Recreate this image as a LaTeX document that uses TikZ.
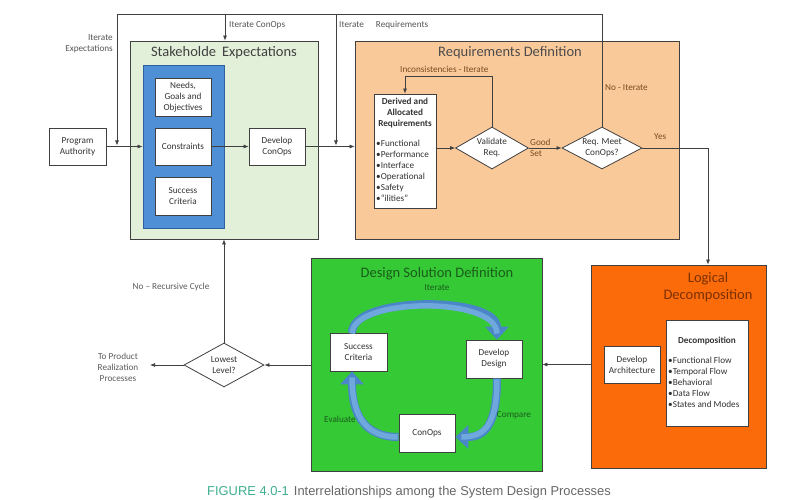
\documentclass[tikz,border=0pt]{standalone}
\usepackage{fontspec}
\setmainfont{Carlito}
\newfontfamily\capfont{Liberation Sans}
\usetikzlibrary{arrows.meta,shapes.geometric}
\definecolor{ln}{HTML}{404040}
\definecolor{txt}{HTML}{333333}
\definecolor{lbl}{HTML}{555555}
\definecolor{brn}{HTML}{7B4A1E}
\definecolor{shfill}{HTML}{E2EFD9}
\definecolor{bluebox}{HTML}{4F8FD6}
\definecolor{blueedge}{HTML}{2E5F9E}
\definecolor{rqfill}{HTML}{FAC99A}
\definecolor{ldfill}{HTML}{FB6B0A}
\definecolor{ldtitle}{HTML}{7A3000}
\definecolor{dsfill}{HTML}{36C936}
\definecolor{dstitle}{HTML}{1A5C1A}
\definecolor{cyc}{HTML}{4A86C8}
\definecolor{cycin}{HTML}{6FA8DC}
\definecolor{capg}{HTML}{3FAE8F}
\definecolor{capt}{HTML}{666666}
\begin{document}
\begin{tikzpicture}[x=1pt,y=-1pt,
  every node/.style={font=\fontsize{9.2}{11}\selectfont, text=txt},
  wbox/.style={draw=ln, line width=0.8pt, fill=white, align=center, inner sep=1pt},
  bigbox/.style={draw=ln, line width=0.8pt, inner sep=0pt},
  title/.style={font=\fontsize{14.5}{17}\selectfont, align=center},
  dia/.style={diamond, draw=ln, line width=0.8pt, fill=white, align=center, inner sep=0pt},
  conn/.style={draw=ln, line width=0.7pt},
  arr/.style={conn, -{Latex[length=5pt,width=4pt]}},
  lab/.style={text=lbl, inner sep=0pt},
  blab/.style={text=brn, inner sep=0pt},
  cycarrow/.style={draw=cyc, line width=8pt, -{Triangle[width=23pt,length=13pt]}},
  cycinner/.style={draw=cycin, line width=5.5pt, shorten >=6pt}
]
\useasboundingbox (0,0) rectangle (812,500);

% Stakeholder expectations
\node[bigbox, fill=shfill, minimum width=188pt, minimum height=198pt] (sh) at (224,140) {};
\node[title, text=black!75] (shT) at (224,53) {Stakeholde\hspace{6pt}Expectations};
\node[draw=blueedge, line width=0.8pt, fill=bluebox, minimum width=81pt, minimum height=163pt] (blue) at (183.5,146.5) {};
\node[wbox, minimum width=56pt, minimum height=38pt] (needs) at (183,97) {Needs,\\Goals and\\Objectives};
\node[wbox, minimum width=56pt, minimum height=37pt] (cons) at (183,146.5) {Constraints};
\node[wbox, minimum width=56pt, minimum height=38pt] (succ) at (183,196) {Success\\Criteria};
\node[wbox, minimum width=56pt, minimum height=37pt] (dcon) at (277,146.5) {Develop\\ConOps};

\node[wbox, minimum width=57pt, minimum height=37pt] (pa) at (77.5,146.5) {Program\\Authority};

% Requirements definition
\node[bigbox, fill=rqfill, minimum width=324pt, minimum height=198pt] (rq) at (517,140) {};
\node[title, text=black!70] (rqT) at (510,53) {Requirements Definition};
\node[wbox, minimum width=62pt, minimum height=114pt] (der) at (405,151) {};
\node[align=center, inner sep=0pt, font=\fontsize{9.2}{11}\selectfont\bfseries] (derT) at (405,113) {Derived and\\Allocated\\Requirements};
\node[align=left, inner sep=0pt, anchor=north west] (derL) at (376,139.5) {•Functional\\•Performance\\•Interface\\•Operational\\•Safety\\•“ilities”};
\node[dia, minimum width=73pt, minimum height=42pt, aspect=1.74] (val) at (492,148) {Validate\\Req.};
\node[dia, minimum width=80pt, minimum height=42pt, aspect=1.9] (rm) at (602,148) {Req. Meet\\ConOps?};

% Logical decomposition
\node[bigbox, fill=ldfill, minimum width=175pt, minimum height=203pt] (ld) at (678.5,366.5) {};
\node[title, text=ldtitle] (ldT) at (708,287) {Logical\\Decomposition};
\node[wbox, minimum width=56pt, minimum height=37pt] (arch) at (632,364.5) {Develop\\Architecture};
\node[wbox, minimum width=82pt, minimum height=106pt] (dec) at (707,373) {};
\node[inner sep=0pt, font=\fontsize{9.2}{11}\selectfont\bfseries] (decT) at (707,341) {Decomposition};
\node[align=left, inner sep=0pt, anchor=north west] (decL) at (668,356.5) {•Functional Flow\\•Temporal Flow\\•Behavioral\\•Data Flow\\•States and Modes};

% Design solution definition
\node[bigbox, fill=dsfill, minimum width=231pt, minimum height=213pt] (ds) at (426.5,364.5) {};
\node[title, text=dstitle] (dsT) at (437,274) {Design Solution Definition};
\node[wbox, minimum width=57pt, minimum height=38pt] (sc) at (358.5,352) {Success\\Criteria};
\node[wbox, minimum width=56pt, minimum height=38pt] (dd) at (494,359) {Develop\\Design};
\node[wbox, minimum width=56pt, minimum height=38pt] (co) at (427,433) {ConOps};
\draw[cycarrow] ([xshift=-6.5pt]sc.north) .. controls +(0,-37) and +(0,-44) .. ([xshift=3pt]dd.north);
\draw[cycarrow] ([xshift=3pt]dd.south) .. controls +(0,47) and +(29,0) .. ([yshift=-4pt]co.east);
\draw[cycarrow] ([yshift=-4pt]co.west) .. controls +(-34,0) and +(0,43) .. ([xshift=-6.5pt]sc.south);
\draw[cycinner] ([xshift=-6.5pt,yshift=-1pt]sc.north) .. controls +(0,-36) and +(0,-44) .. ([xshift=3pt]dd.north);
\draw[cycinner] ([xshift=3pt,yshift=-1pt]dd.south) .. controls +(0,46) and +(29,0) .. ([yshift=-4pt]co.east);
\draw[cycinner] ([xshift=-1pt,yshift=-4pt]co.west) .. controls +(-33,0) and +(0,43) .. ([xshift=-6.5pt]sc.south);
\node[text=dstitle, inner sep=0pt] (itL) at (437,288) {Iterate};
\node[text=dstitle, inner sep=0pt] (cmpL) at (514,415) {Compare};
\node[text=dstitle, inner sep=0pt] (evL) at (340,419) {Evaluate};

% Lowest level
\node[dia, minimum width=80pt, minimum height=44pt, aspect=1.8] (ll) at (224,365) {Lowest\\Level?};
\coordinate (toP) at (150,365);
\node[lab, align=center, text=txt!80] (toPL) at (118,367) {To Product\\Realization\\Processes};
\node[lab, text=txt!80] (recL) at (171,287) {No -- Recursive Cycle};

% Connectors
\draw[arr] (pa) -- (blue);
\draw[arr] (cons) -- (dcon);
\draw[arr] (dcon.east) -- (dcon.east -| rq.west);
\coordinate (topL) at (117,14);
\coordinate (ie) at (117,145.5);
\draw[arr] (rm.north) |- (topL) -- (ie);
\coordinate (icTop) at (225,14);
\draw[arr] (icTop) -- (icTop |- sh.north);
\coordinate (irTop) at (336,14);
\coordinate (ir) at (336,145.5);
\draw[arr] (irTop) -- (ir);
\draw[arr] (val.west -| der.east) -- (val.west);
\draw[arr] (val) -- (rm);
\coordinate (inc) at (405,76);
\draw[arr] (val.north) |- (inc) -- (der.north);
\coordinate (yesC) at (708,148);
\draw[arr] (rm.east) -- (yesC) -- (yesC |- ld.north);
\draw[arr] (ds.east -| ld.west) -- (ds.east);
\draw[arr] (ll.east -| ds.west) -- (ll.east);
\draw[arr] (ll.north) -- (sh.south);
\draw[arr] (ll.west) -- (toP);

% Labels
\node[lab, align=right, anchor=east] (ieL) at (113,43.5) {Iterate\\Expectations};
\node[lab, anchor=west] (icL) at (229,25) {Iterate ConOps};
\node[lab, anchor=west] (irL) at (339,25) {Iterate\hspace{12pt}Requirements};
\node[blab, anchor=west] (incL) at (400,69) {Inconsistencies - Iterate};
\node[blab, anchor=west, align=left] (gsL) at (530,147.5) {Good\\Set};
\node[blab, anchor=west] (noL) at (605,88) {No - Iterate};
\node[blab, anchor=west] (yesL) at (654,137) {Yes};

% Caption
\node[anchor=base west, inner sep=0pt, font=\capfont\fontsize{12.9}{14}\selectfont] (cap) at (207,495.5) {\textcolor{capg}{FIGURE 4.0-1}\hspace{5pt}\textcolor{capt}{Interrelationships among the System Design Processes}};
\end{tikzpicture}
\end{document}
